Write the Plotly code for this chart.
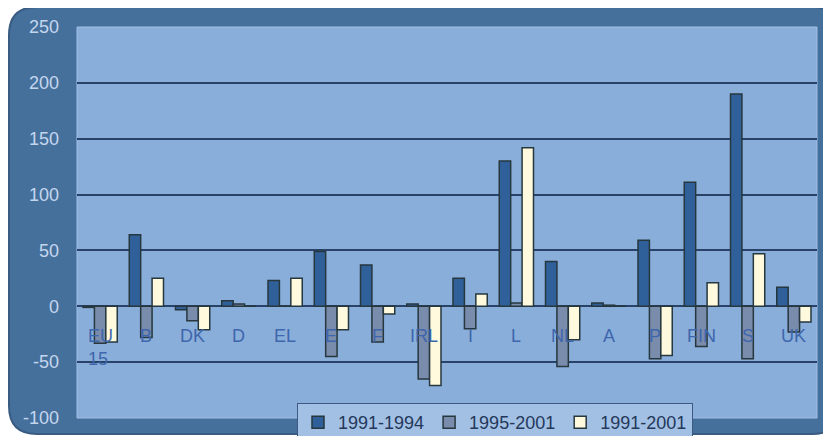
import plotly.graph_objects as go

categories = ["EU-15", "B", "DK", "D", "EL", "E", "F", "IRL", "I", "L", "NL", "A", "P", "FIN", "S", "UK"]
cat_labels = ["EU<br>15", "B", "DK", "D", "EL", "E", "F", "IRL", "I", "L", "NL", "A", "P", "FIN", "S", "UK"]
s_1991_1994 = [-1, 64, -3, 5, 23, 49, 37, 2, 25, 130, 40, 3, 59, 111, 190, 17]
s_1995_2001 = [-33, -28, -13, 2, 0, -45, -32, -65, -20, 3, -54, 1, -47, -36, -47, -23]
s_1991_2001 = [-32, 25, -21, 0, 25, -21, -7, -71, 11, 142, -30, 0, -44, 21, 47, -14]
series_names = ["1991-1994", "1995-2001", "1991-2001"]
y_ticks = [-100, -50, 0, 50, 100, 150, 200, 250]
y_tick_text = ["-100", "-50", "0", "50", "100", "150", "200", "250"]

colors = ["rgb(48,96,154)", "rgb(122,140,172)", "rgb(255,250,222)"]
outline = "rgb(38,55,62)"

fig = go.Figure()
for name, vals, col in zip(series_names, [s_1991_1994, s_1995_2001, s_1991_2001], colors):
    fig.add_trace(go.Bar(x=categories, y=vals, name=name,
                         marker=dict(color=col, line=dict(color=outline, width=1.5))))

# page body has an 8px margin, so the figure is drawn offset by (8, 8) on screen
OFF = 8
SW, SH = 831, 436
W, H = SW - OFF, SH - OFF
# target plot area in screen pixels
pl, pr, pt, pb = 77, 817, 27, 418
ml, mt = pl - OFF, pt - OFF
mr, mb = W - (pr - OFF), H - (pb - OFF)
pw, ph = pr - pl, pb - pt

def px_to_paper(x, y):
    return (x - pl) / pw, (pb - y) / ph

# rounded outer frame
x0, y0 = px_to_paper(9, 7)
x1, y1 = px_to_paper(840, 434)
rx, ry = 28 / pw, 28 / ph
path = (f"M {x0+rx},{y0} L {x1-rx},{y0} Q {x1},{y0} {x1},{y0-ry} "
        f"L {x1},{y1+ry} Q {x1},{y1} {x1-rx},{y1} L {x0+rx},{y1} Q {x0},{y1} {x0},{y1+ry} "
        f"L {x0},{y0-ry} Q {x0},{y0} {x0+rx},{y0} Z")
fig.add_shape(type="path", path=path, xref="paper", yref="paper",
              fillcolor="rgb(70,112,156)", line=dict(color="rgb(58,92,130)", width=2), layer="below")
# plot area background
fig.add_shape(type="rect", xref="paper", yref="paper", x0=0, x1=1, y0=0, y1=1,
              fillcolor="rgb(138,174,218)", line=dict(color="rgb(160,190,228)", width=1), layer="below")

for c, lab in zip(categories, cat_labels):
    fig.add_annotation(x=c, y=0, xref="x", yref="y", text=lab, showarrow=False,
                       yanchor="top", yshift=-18, align="left",
                       font=dict(family="Arial, Liberation Sans", size=18, color="rgb(62,102,172)"))

lx, ly = px_to_paper(495, 403)
fig.update_layout(
    width=W, height=H,
    margin=dict(l=ml, r=mr, t=mt, b=mb, autoexpand=False),
    paper_bgcolor="white",
    plot_bgcolor="rgba(0,0,0,0)",
    barmode="group", bargap=0.26, bargroupgap=0.0,
    font=dict(family="Arial, Liberation Sans"),
    xaxis=dict(showticklabels=False, showgrid=False, zeroline=False, showline=False, ticks=""),
    yaxis=dict(range=[-100, 250], tickvals=y_ticks, ticktext=y_tick_text, showgrid=True,
               gridcolor="rgb(40,66,104)", gridwidth=2,
               zeroline=True, zerolinecolor="rgb(40,66,104)", zerolinewidth=2,
               tickfont=dict(size=18, color="rgb(196,214,238)"), ticks="", ticklen=0,
               ticklabelstandoff=17, showline=False),
    legend=dict(orientation="h", x=lx, xanchor="center", y=ly, yanchor="top",
                bgcolor="rgb(162,192,228)", bordercolor="rgb(60,90,130)", borderwidth=1,
                font=dict(size=18, color="rgb(36,56,90)"), itemwidth=30, tracegroupgap=0),
    showlegend=True,
)

fig.write_html("out.html")
